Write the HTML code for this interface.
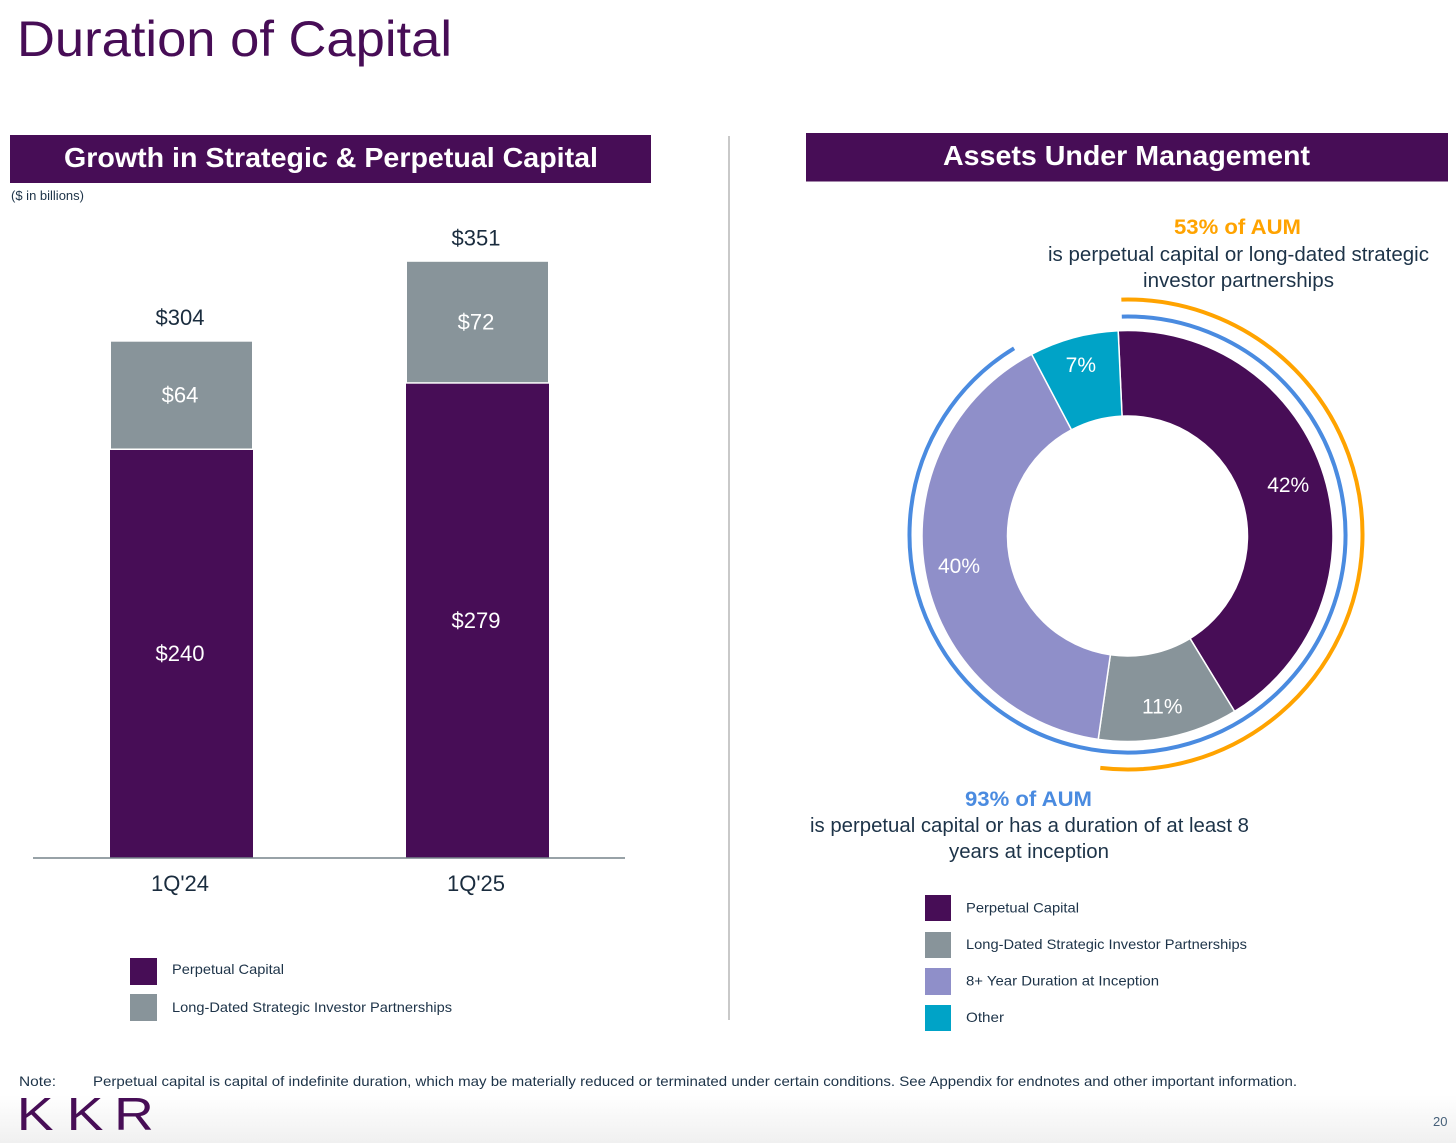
<!DOCTYPE html>
<html lang="en">
<head>
<meta charset="utf-8">
<title>Duration of Capital</title>
<style>
html,body{margin:0;padding:0;background:#fff;width:1456px;height:1143px;overflow:hidden}
svg{display:block;font-family:"Liberation Sans",sans-serif}
</style>
</head>
<body>
<svg id="slide" width="1456" height="1143" viewBox="0 0 1456 1143" xmlns="http://www.w3.org/2000/svg">
<defs>
<linearGradient id="footShade" x1="0" y1="0" x2="0" y2="1"><stop offset="0" stop-color="#ffffff"/><stop offset="1" stop-color="#f0f0f0"/></linearGradient>
</defs>
<rect width="1456" height="1143" fill="#fff"/>
<rect x="0" y="1095" width="1456" height="48" fill="url(#footShade)"/>
<text x="17" y="56" font-size="50" fill="#470d56" textLength="435" lengthAdjust="spacingAndGlyphs">Duration of Capital</text>

<rect x="10" y="135" width="641" height="48" fill="#470d56"/>
<text x="64" y="167" font-size="28" font-weight="700" fill="#fff" textLength="534" lengthAdjust="spacingAndGlyphs">Growth in Strategic &amp; Perpetual Capital</text>
<text x="11" y="200" font-size="13" fill="#1d3348" textLength="73" lengthAdjust="spacingAndGlyphs">($ in billions)</text>

<rect x="806" y="133" width="642" height="48.5" fill="#470d56"/>
<text x="943" y="165" font-size="28" font-weight="700" fill="#fff" textLength="367" lengthAdjust="spacingAndGlyphs">Assets Under Management</text>

<rect x="728" y="136" width="2" height="884" fill="#c9c9c9"/>

<g id="barChart"></g>
<line x1="33" y1="858" x2="625" y2="858" stroke="#76838a" stroke-width="1.5"/>

<g>
<rect x="130" y="958" width="27" height="27" fill="#470d56"/>
<text x="172" y="974" font-size="14" fill="#1d3348" textLength="112" lengthAdjust="spacingAndGlyphs">Perpetual Capital</text>
<rect x="130" y="994" width="27" height="27" fill="#88949a"/>
<text x="172" y="1012" font-size="14" fill="#1d3348" textLength="280" lengthAdjust="spacingAndGlyphs">Long-Dated Strategic Investor Partnerships</text>
</g>

<text x="1174" y="234" font-size="21" font-weight="700" fill="#ffa300" textLength="127" lengthAdjust="spacingAndGlyphs">53% of AUM</text>
<text x="1048" y="261" font-size="20" fill="#1d3348" textLength="381" lengthAdjust="spacingAndGlyphs">is perpetual capital or long-dated strategic</text>
<text x="1143" y="287" font-size="20" fill="#1d3348" textLength="191" lengthAdjust="spacingAndGlyphs">investor partnerships</text>

<g id="donutChart"></g>

<text x="965" y="806" font-size="21" font-weight="700" fill="#4a8be0" textLength="127" lengthAdjust="spacingAndGlyphs">93% of AUM</text>
<text x="810" y="832" font-size="20" fill="#1d3348" textLength="439" lengthAdjust="spacingAndGlyphs">is perpetual capital or has a duration of at least 8</text>
<text x="949" y="858" font-size="20" fill="#1d3348" textLength="160" lengthAdjust="spacingAndGlyphs">years at inception</text>

<g>
<rect x="925" y="895" width="26" height="26" fill="#470d56"/>
<text x="966" y="912.5" font-size="14" fill="#1d3348" textLength="113" lengthAdjust="spacingAndGlyphs">Perpetual Capital</text>
<rect x="925" y="932" width="26" height="26" fill="#88949a"/>
<text x="966" y="949" font-size="14" fill="#1d3348" textLength="281" lengthAdjust="spacingAndGlyphs">Long-Dated Strategic Investor Partnerships</text>
<rect x="925" y="968" width="26" height="27" fill="#8f8fc9"/>
<text x="966" y="985.5" font-size="14" fill="#1d3348" textLength="193" lengthAdjust="spacingAndGlyphs">8+ Year Duration at Inception</text>
<rect x="925" y="1005" width="26" height="26" fill="#00a3c7"/>
<text x="966" y="1022" font-size="14" fill="#1d3348" textLength="38" lengthAdjust="spacingAndGlyphs">Other</text>
</g>

<text x="19" y="1086" font-size="14" fill="#1d3348" textLength="37" lengthAdjust="spacingAndGlyphs">Note:</text>
<text x="93" y="1086" font-size="14" fill="#1d3348" textLength="1204" lengthAdjust="spacingAndGlyphs">Perpetual capital is capital of indefinite duration, which may be materially reduced or terminated under certain conditions. See Appendix for endnotes and other important information.</text>
<text transform="scale(1.2 1)" x="14 55.5 95" y="1130" font-size="46" fill="#470d56">KKR</text>
<text x="1433" y="1126" font-size="13" fill="#47617a">20</text>
</svg>

<script>
/* ---- Bar chart data ---- */
const barCategories = ["1Q'24", "1Q'25"];
const perpetualValues = [240, 279];
const strategicValues = [64, 72];
const barTotals = [304, 351];

/* ---- Donut data ---- */
const donutCategories = ["Perpetual Capital", "Long-Dated Strategic Investor Partnerships", "8+ Year Duration at Inception", "Other"];
const donutValues = [42, 11, 40, 7];
const arcSeriesNames = ["orange-arc", "blue-arc"];
const arcPercents = [53, 93];

const SVGNS = "http://www.w3.org/2000/svg";
const PURPLE = "#470d56", GREY = "#88949a", LAV = "#8f8fc9", TEAL = "#00a3c7";

function make(parent, tag, attrs, text) {
  const el = document.createElementNS(SVGNS, tag);
  for (const k in attrs) el.setAttribute(k, attrs[k]);
  if (text !== undefined) el.textContent = text;
  parent.appendChild(el);
  return el;
}

/* Axis functions */
const BASE_Y = 858, PX_PER_UNIT = 1.7;
const yScale = v => BASE_Y - v * PX_PER_UNIT;
const BAND_START = 181.5, BAND_STEP = 296, BAR_W = 143;
const xCenter = i => BAND_START + i * BAND_STEP;

const barRoot = document.getElementById("barChart");
barCategories.forEach((cat, i) => {
  const cx = xCenter(i);
  const p = perpetualValues[i], s = strategicValues[i];

  const pBar = make(barRoot, "rect", {x: cx - BAR_W / 2, y: yScale(p), width: BAR_W, height: yScale(0) - yScale(p), fill: PURPLE});
  
  

  const sBar = make(barRoot, "rect", {x: cx - BAR_W / 2 + 1, y: yScale(p + s) + 0.5, width: BAR_W - 2, height: yScale(p) - yScale(p + s) - 2, fill: GREY});
  
  

  const pLab = make(barRoot, "text", {x: cx - 1.5, y: yScale(p / 2) + 7, "text-anchor": "middle", "font-size": 22, fill: "#fff"}, "$" + p);
  
  

  const sLab = make(barRoot, "text", {x: cx - 1.5, y: yScale(p + s / 2) + 7, "text-anchor": "middle", "font-size": 22, fill: "#fff"}, "$" + s);
  
  

  const tLab = make(barRoot, "text", {x: cx - 1.5, y: yScale(p + s) - 16, "text-anchor": "middle", "font-size": 22, fill: "#1a2c3e"}, "$" + barTotals[i]);
  
  

  const xLab = make(barRoot, "text", {x: cx - 1.5, y: 891, "text-anchor": "middle", "font-size": 22, fill: "#1a2c3e"}, cat);
  
  
});

/* Donut */
const CX = 1127.5, CY = 536, R_OUT = 205.5, R_IN = 120, START_DEG = -2.6;
const sliceColors = [PURPLE, GREY, LAV, TEAL];
const sliceLabelNudge = [-1, 3, 1, 8];
const sliceLabelAngleNudge = [-1, 0, 0, 0];
const LABEL_R = 170;
const total = donutValues.reduce((a, b) => a + b, 0);
const angleOf = share => share / total * 360;
const polar = (r, deg, cy) => {
  const a = deg * Math.PI / 180;
  return [CX + r * Math.sin(a), (cy === undefined ? CY : cy) - r * Math.cos(a)];
};

const donutRoot = document.getElementById("donutChart");
let cursor = START_DEG;
donutValues.forEach((v, i) => {
  const a0 = cursor, a1 = cursor + angleOf(v);
  const [x0, y0] = polar(R_OUT, a0), [x1, y1] = polar(R_OUT, a1);
  const [x2, y2] = polar(R_IN, a1), [x3, y3] = polar(R_IN, a0);
  const large = a1 - a0 > 180 ? 1 : 0;
  const slice = make(donutRoot, "path", {
    d: `M${x0} ${y0}A${R_OUT} ${R_OUT} 0 ${large} 1 ${x1} ${y1}L${x2} ${y2}A${R_IN} ${R_IN} 0 ${large} 0 ${x3} ${y3}Z`,
    fill: sliceColors[i], stroke: "#fff", "stroke-width": 1.5
  });
  
  
  make(slice, "title", {}, donutCategories[i]);
  const [lx, ly] = polar(LABEL_R + sliceLabelNudge[i], (a0 + a1) / 2 + sliceLabelAngleNudge[i]);
  const lab = make(donutRoot, "text", {x: lx, y: ly + 8, "text-anchor": "middle", "font-size": 21, fill: "#fff"}, v + "%");
  
  
  cursor = a1;
});

/* Outer bracket arcs */
const ARC_START_DEG = -1.5, ARC_DEG_PER_PERCENT = 3.55, ARC_CY = 534.5;
const arcRadii = [235, 218];
const arcColors = ["#ffa300", "#4a8be0"];
arcPercents.forEach((pct, i) => {
  const a1 = ARC_START_DEG + pct * ARC_DEG_PER_PERCENT;
  const [x0, y0] = polar(arcRadii[i], ARC_START_DEG, ARC_CY), [x1, y1] = polar(arcRadii[i], a1, ARC_CY);
  const large = a1 - ARC_START_DEG > 180 ? 1 : 0;
  const arc = make(donutRoot, "path", {
    d: `M${x0} ${y0}A${arcRadii[i]} ${arcRadii[i]} 0 ${large} 1 ${x1} ${y1}`,
    fill: "none", stroke: arcColors[i], "stroke-width": 4
  });
  
  
});
</script>
</body>
</html>
